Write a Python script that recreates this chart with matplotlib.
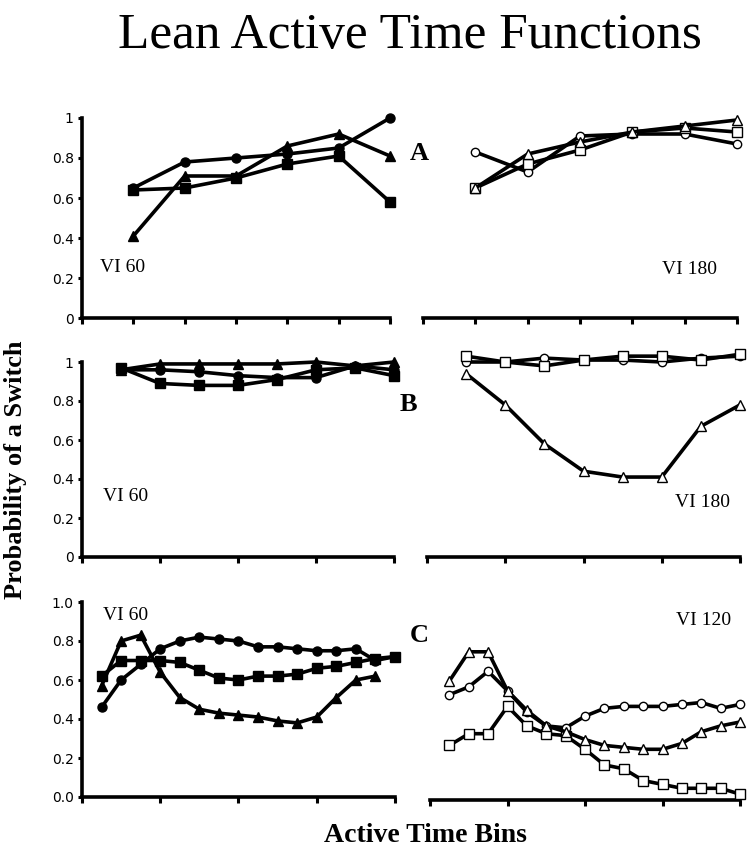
import matplotlib
matplotlib.use("Agg")
import matplotlib.pyplot as plt
from matplotlib.ticker import FormatStrFormatter

plt.rcParams['font.family'] = ['Liberation Serif', 'DejaVu Serif']

# --- Data ---
# Panel A: 6 bins
a_bins = [1, 2, 3, 4, 5, 6]
a60_circle = [0.65, 0.78, 0.80, 0.82, 0.85, 1.00]
a60_square = [0.64, 0.65, 0.70, 0.77, 0.81, 0.58]
a60_triangle = [0.41, 0.71, 0.71, 0.86, 0.92, 0.81]
a180_circle = [0.83, 0.73, 0.91, 0.92, 0.92, 0.87]
a180_square = [0.65, 0.77, 0.84, 0.93, 0.95, 0.93]
a180_triangle = [0.65, 0.82, 0.88, 0.93, 0.96, 0.99]

# Panel B: 8 bins
b_bins = [1, 2, 3, 4, 5, 6, 7, 8]
b60_circle = [0.96, 0.96, 0.95, 0.93, 0.92, 0.92, 0.98, 0.96]
b60_square = [0.97, 0.89, 0.88, 0.88, 0.91, 0.96, 0.97, 0.93]
b60_triangle = [0.96, 0.99, 0.99, 0.99, 0.99, 1.00, 0.98, 1.00]
b180_circle = [1.00, 1.00, 1.02, 1.01, 1.01, 1.00, 1.02, 1.03]
b180_square = [1.03, 1.00, 0.98, 1.01, 1.03, 1.03, 1.01, 1.04]
b180_triangle = [0.94, 0.78, 0.58, 0.44, 0.41, 0.41, 0.67, 0.78]

# Panel C: 16 bins
c_bins = list(range(1, 17))
c60_circle = [0.46, 0.60, 0.68, 0.76, 0.80, 0.82, 0.81, 0.80,
              0.77, 0.77, 0.76, 0.75, 0.75, 0.76, 0.70, 0.72]
c60_square = [0.62, 0.70, 0.70, 0.70, 0.69, 0.65, 0.61, 0.60,
              0.62, 0.62, 0.63, 0.66, 0.67, 0.69, 0.71, 0.72]
c60_triangle = [0.57, 0.80, 0.83, 0.64, 0.51, 0.45, 0.43, 0.42,
                0.41, 0.39, 0.38, 0.41, 0.51, 0.60, 0.62]
c120_circle = [0.54, 0.58, 0.66, 0.56, 0.45, 0.38, 0.37, 0.43,
               0.47, 0.48, 0.48, 0.48, 0.49, 0.50, 0.47, 0.49]
c120_square = [0.28, 0.34, 0.34, 0.48, 0.38, 0.34, 0.33, 0.26,
               0.18, 0.16, 0.10, 0.08, 0.06, 0.06, 0.06, 0.03]
c120_triangle = [0.61, 0.76, 0.76, 0.56, 0.46, 0.38, 0.35, 0.31,
                 0.28, 0.27, 0.26, 0.26, 0.29, 0.35, 0.38, 0.40]

W, H = 750, 852


def px_axes(fig, x0, x1, y0, y1):
    """Axes from pixel box: x0..x1 left-right, y0 = pixel row of value 0, y1 = row of value 1."""
    return fig.add_axes([x0 / W, 1 - y0 / H, (x1 - x0) / W, (y0 - y1) / H])


def draw_lines(ax, x, series, filled):
    for vals, m, ms in series:
        ax.plot(x[:len(vals)], vals, color='black', lw=2.6, marker=m, ms=ms,
                mfc='black' if filled else 'white', mec='black', mew=1.0,
                clip_on=False, zorder=3)


def style(ax, xmax, step, left=True, fmt=None):
    ax.set_xlim(0, xmax)
    ax.set_ylim(0, 1)
    for s in ['top', 'right']:
        ax.spines[s].set_visible(False)
    ax.spines['bottom'].set_linewidth(2.6)
    ax.set_xticks(range(0, xmax + 1, step))
    ax.set_xticklabels([])
    ax.tick_params(axis='x', direction='out', length=4, width=2.2)
    if left:
        ax.spines['left'].set_linewidth(2.6)
        ax.set_yticks([0, 0.2, 0.4, 0.6, 0.8, 1.0])
        if fmt:
            ax.yaxis.set_major_formatter(FormatStrFormatter(fmt))
        else:
            ax.set_yticklabels(['0', '0.2', '0.4', '0.6', '0.8', '1'])
        ax.tick_params(axis='y', direction='out', length=3, width=2.2, pad=3)
        for lab in ax.get_yticklabels():
            lab.set_fontfamily('DejaVu Sans')
            lab.set_fontsize(10)
    else:
        ax.spines['left'].set_visible(False)
        ax.set_yticks([])
    ax.patch.set_alpha(0)


fig = plt.figure(figsize=(W / 100, H / 100), dpi=100)

filled = [('o', 6.5), ('s', 7), ('^', 7.5)]
opened = [('o', 6), ('s', 6.5), ('^', 6.5)]

# Panel A
ax = px_axes(fig, 82, 390, 318, 118)
draw_lines(ax, a_bins, [(a60_circle, *filled[0]), (a60_square, *filled[1]),
                        (a60_triangle, *filled[2])], True)
style(ax, 6, 1)
ax.text(0.35, 0.25, 'VI 60', fontsize=14, va='center')

ax = px_axes(fig, 423, 737, 318, 118)
draw_lines(ax, a_bins, [(a180_circle, *opened[0]), (a180_square, *opened[1]),
                        (a180_triangle, *opened[2])], False)
style(ax, 6, 1, left=False)
ax.text(4.57, 0.245, 'VI 180', fontsize=14, va='center')

# Panel B
ax = px_axes(fig, 82, 394, 557, 362)
draw_lines(ax, b_bins, [(b60_circle, *filled[0]), (b60_square, *filled[1]),
                        (b60_triangle, *filled[2])], True)
style(ax, 8, 2)
ax.text(0.54, 0.31, 'VI 60', fontsize=14, va='center')

ax = px_axes(fig, 427, 740, 557, 362)
draw_lines(ax, b_bins, [(b180_circle, *opened[0]), (b180_square, *opened[1]),
                        (b180_triangle, *opened[2])], False)
style(ax, 8, 2, left=False)
ax.text(6.34, 0.28, 'VI 180', fontsize=14, va='center')

# Panel C
ax = px_axes(fig, 82, 395, 797, 602)
draw_lines(ax, c_bins, [(c60_circle, *filled[0]), (c60_square, *filled[1]),
                        (c60_triangle, *filled[2])], True)
style(ax, 16, 4, fmt='%.1f')
ax.text(1.07, 0.93, 'VI 60', fontsize=14, va='center')

ax = px_axes(fig, 430, 740, 800, 605)
draw_lines(ax, c_bins, [(c120_circle, *opened[0]), (c120_square, *opened[1]),
                        (c120_triangle, *opened[2])], False)
style(ax, 16, 4, left=False)
ax.text(12.7, 0.92, 'VI 120', fontsize=14, va='center')

# panel letters
for letter, x, y in [('A', 419, 153), ('B', 408, 405), ('C', 419, 635)]:
    fig.text(x / W, 1 - y / H, letter, fontsize=19, fontweight='bold',
             ha='center', va='center')

fig.text(410 / W, 1 - 48 / H, 'Lean Active Time Functions', fontsize=37,
         ha='center', va='baseline')
fig.text(16 / W, 1 - 470 / H, 'Probability of a Switch', fontsize=19,
         fontweight='bold', rotation=90, ha='center', va='center')
fig.text(425 / W, 1 - 835 / H, 'Active Time Bins', fontsize=20,
         fontweight='bold', ha='center', va='center')

fig.savefig('out.png', dpi=100)
